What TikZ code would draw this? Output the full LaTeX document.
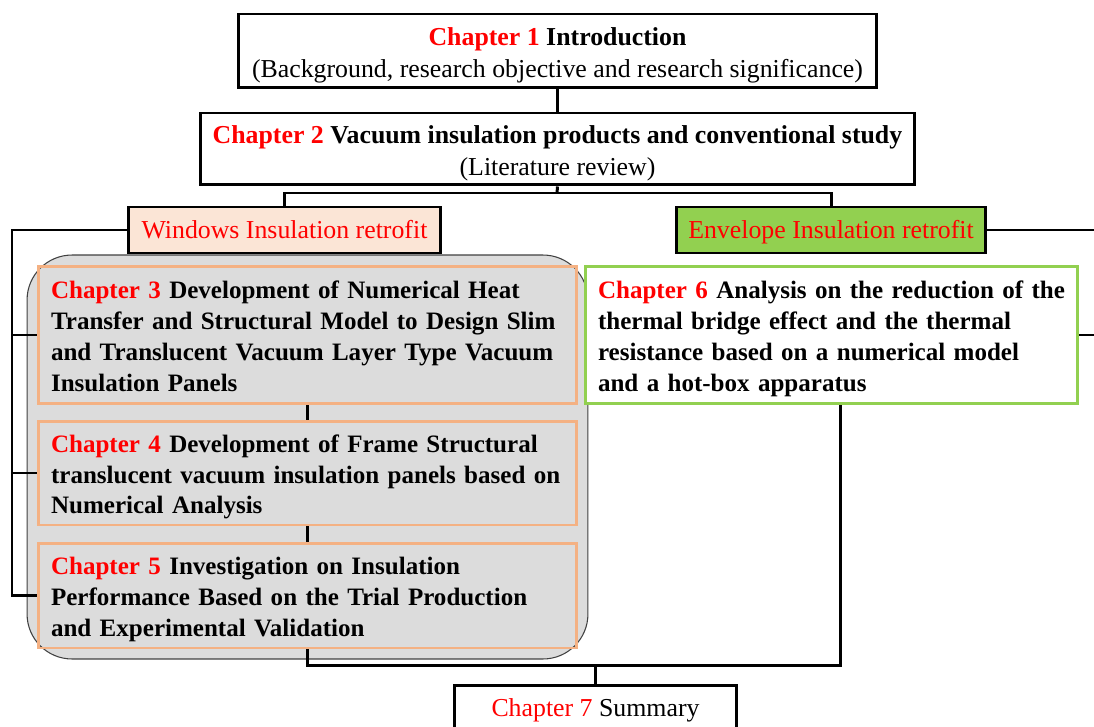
\documentclass[tikz,border=0pt]{standalone}
\usepackage{fontspec}
\setmainfont{Liberation Serif}
\usetikzlibrary{positioning,fit,backgrounds}
\definecolor{chapred}{HTML}{FF0000}
\definecolor{peach}{HTML}{FBE5D6}
\definecolor{leaf}{HTML}{92D050}
\definecolor{sand}{HTML}{F4B183}
\definecolor{cloud}{HTML}{DCDCDC}
\newcommand{\chap}[1]{\textcolor{chapred}{#1}}
\begin{document}
\begin{tikzpicture}[x=0.02cm,y=-0.02cm,
    box/.style={draw=black,line width=1.7pt,fill=white,align=center,inner sep=0pt,font=\fontsize{14.7}{18.2}\selectfont},
    head/.style={box,align=flush center,execute at begin node={\rule{0pt}{17pt}},execute at end node={\strut}},
    tag/.style={box,text=chapred,minimum height=0.92cm,text height=0.7em+2.2pt,text depth=0pt},
    chbox/.style={draw=sand,line width=1.7pt,align=left,inner xsep=0.26cm,inner ysep=0pt,font=\fontsize{14.25}{17.6}\selectfont\bfseries,
        execute at begin node={\rule{0pt}{16.7pt}},execute at end node={\strut}},
    link/.style={line width=1.7pt,draw=black}]
    \useasboundingbox (0,0) rectangle (1094,726);
    \clip (0,0) rectangle (1094,726);

    \node[head,text width=12.7cm,minimum width=12.78cm,minimum height=1.48cm] (ch1) at (557.5,51)
        {\textbf{\chap{Chapter 1} Introduction}\\(Background, research objective and research significance)};
    \node[head,text width=14.2cm,minimum width=14.3cm,minimum height=1.44cm] (ch2) at (557.5,149)
        {\textbf{\chap{Chapter 2} Vacuum insulation products and conventional study}\\(Literature review)};

    \node[tag,fill=peach,minimum width=6.24cm] (win) at (284.5,230) {Windows Insulation retrofit};
    \node[tag,fill=leaf,minimum width=6.2cm] (env) at (831,230) {Envelope Insulation retrofit};

    \node[chbox,text width=10.26cm,minimum width=10.78cm,minimum height=2.76cm] (ch3) at (307.5,335)
        {\chap{Chapter 3} Development of Numerical Heat\\Transfer and Structural Model to Design Slim\\and Translucent Vacuum Layer Type Vacuum\\Insulation Panels};
    \node[chbox,text width=10.26cm,minimum width=10.78cm,minimum height=2.08cm] (ch4) at (307.5,473)
        {\chap{Chapter 4} Development of Frame Structural\\translucent vacuum insulation panels based on\\Numerical Analysis};
    \node[chbox,text width=10.26cm,minimum width=10.78cm,minimum height=2.1cm] (ch5) at (307.5,595.5)
        {\chap{Chapter 5} Investigation on Insulation\\Performance Based on the Trial Production\\and Experimental Validation};
    \node[chbox,draw=leaf,fill=white,text width=9.34cm,minimum width=9.86cm,minimum height=2.76cm] (ch6) at (831.5,335)
        {\chap{Chapter 6} Analysis on the reduction of the\\thermal bridge effect and the thermal\\resistance based on a numerical model\\and a hot-box apparatus};

    \node[tag,text=black,minimum width=5.66cm] (ch7) at (595.5,708)
        {\chap{Chapter 7} Summary};

    % grey group behind the window chapters
    \begin{scope}[on background layer]
        \node[fit=(ch3) (ch4) (ch5),inner sep=0.19cm,rounded corners=0.9cm,fill=cloud,draw=black!75,line width=0.6pt] (grp) {};
    \end{scope}

    \coordinate (bus2) at (557,193);
    \coordinate (lbus) at (12,230);
    \coordinate (rbus) at (1120,230);
    \coordinate (j6) at (840,665);

    \draw[link] (ch1.south) -- (ch2.north);
    \draw[link] (ch2.south) -- (bus2);
    \draw[link] (win.north) |- (bus2) -| (env.north);
    \draw[link] (win.west) -- (lbus) |- (ch5.west);
    \draw[link] (lbus |- ch3.west) -- (ch3.west);
    \draw[link] (lbus |- ch4.west) -- (ch4.west);
    \draw[link] (env.east) -- (rbus) |- (ch6.east);
    \draw[link] (ch3.south) -- (ch4.north);
    \draw[link] (ch4.south) -- (ch5.north);
    \draw[link] (ch5.south) |- (j6) -- (j6 |- ch6.south);
    \draw[link] (ch7.north) -- (ch7.north |- j6);
\end{tikzpicture}
\end{document}
